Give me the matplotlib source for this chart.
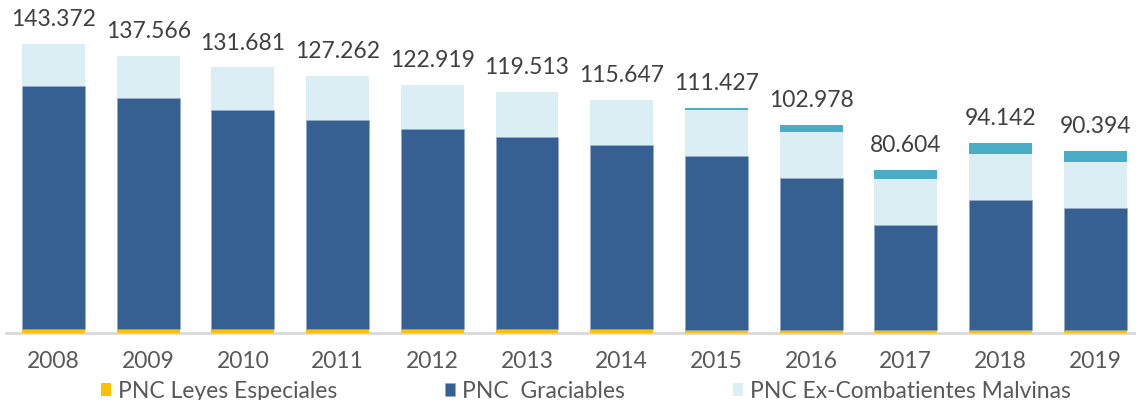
import numpy as np
import matplotlib.pyplot as plt

plt.rcParams['font.family'] = ['Lato', 'DejaVu Sans']

years = ['2008', '2009', '2010', '2011', '2012', '2013',
         '2014', '2015', '2016', '2017', '2018', '2019']
totales = np.array([143372, 137566, 131681, 127262, 122919, 119513,
                    115647, 111427, 102978, 80604, 94142, 90394])
leyes_especiales = np.array([1500, 1500, 1500, 1500, 1500, 1500,
                             1500, 1100, 1100, 1100, 1000, 1000])
malvinas = np.array([20900, 21200, 21250, 21650, 21900, 22200,
                     22450, 22700, 22550, 22900, 22800, 22600])
otras = np.array([0, 0, 0, 0, 0, 0, 0, 1000, 3500, 4300, 5450, 5750])
graciables = totales - leyes_especiales - malvinas - otras

c_yellow = '#FFC000'
c_dark = '#366092'
c_light = '#DAEEF3'
c_teal = '#4BACC6'

fig = plt.figure(figsize=(11.36, 4), dpi=100)
ax = fig.add_axes([6.15 / 1136, 67.5 / 400, 1136.4 / 1136, 0.805])

x = np.arange(len(years))
w = 0.665
ax.bar(x, leyes_especiales, w, color=c_yellow, label='PNC Leyes Especiales', zorder=3)
ax.bar(x, graciables, w, bottom=leyes_especiales, color=c_dark,
       edgecolor='#8FA9C9', linewidth=0.4, label='PNC  Graciables', zorder=3)
b2 = leyes_especiales + graciables
ax.bar(x, malvinas, w, bottom=b2, color=c_light,
       label='PNC Ex-Combatientes Malvinas', zorder=3)
b3 = b2 + malvinas
ax.bar(x, otras, w, bottom=b3, color=c_teal, zorder=3)

for xi, t in zip(x, totales):
    lab = f'{t:,}'.replace(',', '.')
    ax.annotate(lab, (xi, t), xytext=(0, 10), textcoords='offset points',
                ha='center', va='bottom', fontsize=16.5, color='#404040')

ax.set_xlim(-0.5, 11.5)
ax.set_ylim(0, 160000)
ax.set_xticks(x)
ax.set_xticklabels(years, fontsize=16.5, color='#595959')
ax.tick_params(axis='x', length=0, pad=13)
ax.set_yticks([])
for s in ['top', 'right', 'left']:
    ax.spines[s].set_visible(False)
ax.spines['bottom'].set_color('#D9D9D9')
ax.spines['bottom'].set_linewidth(2)
ax.spines['bottom'].set_zorder(1)

h, l = ax.get_legend_handles_labels()
fig.legend(h, l, loc='center left', bbox_to_anchor=(101 / 1136, 0.022),
           ncol=3, frameon=False, fontsize=16.5, labelcolor='#595959',
           handlelength=0.45, handleheight=0.45, handletextpad=0.3,
           columnspacing=4.7, borderpad=0, borderaxespad=0)

fig.savefig('out.png', dpi=100)
